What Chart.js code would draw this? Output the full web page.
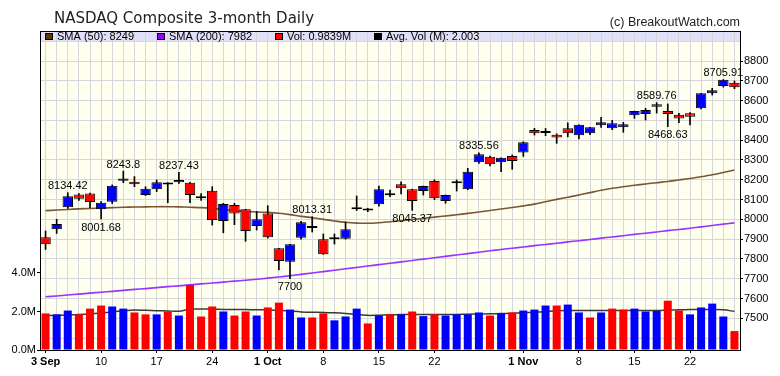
<!DOCTYPE html>
<html>
<head>
<meta charset="utf-8">
<script src="https://cdn.jsdelivr.net/npm/chart.js@4.4.1/dist/chart.umd.min.js"></script>
<style>
  html, body { margin: 0; padding: 0; background: #fff; }
  #wrap { width: 780px; height: 376px; }
</style>
</head>
<body>
<div id="wrap"><canvas id="chart" width="780" height="376"></canvas></div>
<script>
// trading days, 3 Sep - 29 Nov
const days = [
  "3 Sep", "4", "5", "6", "9", "10", "11", "12", "13", "16", "17", "18", "19", "20", "23", "24", "25", "26", "27", "30",
  "1 Oct", "2", "3", "4", "7", "8", "9", "10", "11", "14", "15", "16", "17", "18", "21", "22", "23", "24", "25", "28", "29", "30", "31",
  "1 Nov", "4", "5", "6", "7", "8", "11", "12", "13", "14", "15", "18", "19", "20", "21", "22", "25", "26", "27", "29",
];
const tickIdx = [0, 5, 10, 15, 20, 25, 30, 35, 43, 48, 53, 58];

const opens = [
  7909, 7950, 8061, 8126, 8131, 8051, 8089, 8207, 8190, 8123,
  8152, 8176, 8199, 8185, 8106, 8145, 7992, 8072, 8051, 7966,
  8030, 7854, 7786, 7907, 7956, 7899, 7900, 7902, 8051, 8045,
  8076, 8122, 8177, 8152, 8143, 8194, 8093, 8183, 8152, 8288,
  8316, 8288, 8320, 8338, 8451, 8446, 8428, 8460, 8425, 8435,
  8475, 8460, 8465, 8526, 8532, 8581, 8547, 8529, 8536, 8561,
  8637, 8674, 8690,
];
const highs = [
  7941, 8000, 8134.42, 8130, 8133, 8090, 8174, 8243.8, 8216, 8165,
  8199, 8185, 8237.43, 8187, 8130, 8165, 8081, 8081, 8051, 8040,
  8069, 7854, 7874, 7990, 8013.31, 7926, 7926, 7986, 8118, 8056,
  8168, 8148, 8190, 8152, 8168, 8200, 8123, 8199, 8258, 8335.56,
  8320, 8311, 8325, 8392, 8460, 8459, 8432, 8488, 8478, 8465,
  8516, 8500, 8490, 8547, 8561, 8589.76, 8583, 8536, 8540, 8637,
  8662, 8705.91, 8699,
];
const lows = [
  7848, 7929, 8055, 8096, 8059, 8001.68, 8080, 8185, 8165, 8120,
  8140, 8084, 8182, 8084, 8096, 7971, 7932, 7973, 7889, 7946,
  7905, 7744, 7700, 7900, 7936, 7823, 7875, 7900, 8045, 8039,
  8066, 8114, 8128, 8045.37, 8123, 8100, 8081, 8143, 8150, 8283,
  8270, 8241, 8253, 8318, 8426, 8423, 8384, 8417, 8407, 8428,
  8465, 8453, 8440, 8510, 8502, 8537, 8468.63, 8488, 8477, 8558,
  8628, 8668, 8660,
];
const closes = [
  7874, 7977, 8117, 8104, 8088, 8084, 8170, 8195, 8177, 8155,
  8187, 8178, 8187, 8123, 8114, 7997, 8077, 8030, 7941, 8000,
  7909, 7789, 7874, 7985, 7958, 7823, 7903, 7950, 8061, 8048,
  8152, 8124, 8157, 8093, 8168, 8106, 8123, 8185, 8241, 8329,
  8278, 8311, 8295, 8390, 8435, 8436, 8414, 8435, 8478, 8465,
  8490, 8485, 8480, 8547, 8552, 8569, 8532, 8510, 8519, 8637,
  8652, 8705, 8667,
];
const priorClose = 7963;

// volume, millions
const volumes = [
  1.90, 1.85, 2.05, 1.85, 2.15, 2.31, 2.26, 2.15, 1.95, 1.85,
  1.85, 2.00, 1.79, 3.38, 1.74, 2.26, 2.00, 1.79, 2.00, 1.79,
  2.21, 2.46, 2.10, 1.69, 1.69, 1.90, 1.54, 1.74, 2.15, 1.38,
  1.79, 1.85, 1.85, 2.00, 1.76, 1.85, 1.79, 1.85, 1.85, 1.95,
  1.79, 1.90, 1.95, 2.05, 2.10, 2.31, 2.31, 2.36, 1.95, 1.69,
  1.95, 2.15, 2.10, 2.15, 2.00, 2.03, 2.56, 2.05, 1.85, 2.21,
  2.41, 1.74, 0.9839,
];
const avgVol = [
  1.79, 1.80, 1.82, 1.84, 1.87, 1.92, 1.98, 2.04, 2.08, 2.06,
  2.04, 2.03, 2.01, 2.12, 2.13, 2.12, 2.11, 2.10, 2.10, 2.09,
  2.08, 2.06, 2.02, 1.98, 1.96, 1.95, 1.93, 1.90, 1.86, 1.80,
  1.81, 1.83, 1.84, 1.84, 1.84, 1.84, 1.85, 1.85, 1.86, 1.87,
  1.88, 1.89, 1.91, 1.93, 1.96, 2.00, 2.04, 2.05, 2.05, 2.05,
  2.05, 2.05, 2.05, 2.05, 2.05, 2.05, 2.07, 2.09, 2.10, 2.10,
  2.10, 2.09, 2.003,
];
const sma50 = [
  8044, 8047, 8050, 8053, 8055, 8057, 8059, 8061, 8062, 8063,
  8064, 8064, 8063, 8061, 8059, 8055, 8050, 8044, 8040, 8037,
  8035, 8031, 8024, 8015, 8008, 8000, 7992, 7985, 7981, 7980,
  7983, 7988, 7993, 7999, 8005, 8011, 8017, 8023, 8030, 8037,
  8045, 8052, 8060, 8068, 8077, 8089, 8101, 8112, 8123, 8135,
  8147, 8157, 8165, 8172, 8179, 8185, 8191, 8199, 8206, 8215,
  8225, 8237, 8249,
];
const sma200 = [
  7609, 7613, 7618, 7622, 7627, 7632, 7636, 7641, 7646, 7650,
  7655, 7660, 7664, 7669, 7674, 7678, 7683, 7688, 7692, 7697,
  7703, 7709, 7715, 7722, 7729, 7736, 7743, 7750, 7757, 7764,
  7771, 7778, 7785, 7792, 7799, 7806, 7813, 7820, 7827, 7834,
  7841, 7848, 7854, 7860, 7867, 7873, 7879, 7886, 7892, 7898,
  7905, 7911, 7917, 7924, 7930, 7936, 7943, 7949, 7955, 7962,
  7969, 7976, 7982,
];

// which candles get their high / low printed
const highMarks = [2, 7, 12, 24, 39, 55, 61];
const lowMarks = [5, 22, 33, 56];

const priceTicks = [7400, 7500, 7600, 7700, 7800, 7900, 8000, 8100, 8200, 8300, 8400, 8500, 8600, 8700, 8800, 8900];
const volTicks = [0, 2, 4];

const BLUE = "#0000ff";
const RED = "#ff0000";
const SMALL = "'Liberation Sans', Arial, sans-serif";

const candleColors = closes.map((c, i) => (c > opens[i] ? BLUE : RED));
const volColors = closes.map((c, i) => (c < (i ? closes[i - 1] : priorClose) ? RED : BLUE));

const last = closes.length - 1;
const legendItems = [
  { x: 45, color: "#663300", text: `SMA (50): ${sma50[last]}` },
  { x: 157, color: "#9900ff", text: `SMA (200): ${sma200[last]}` },
  { x: 275, color: RED, text: `Vol: ${volumes[last]}M` },
  { x: 374, color: "#000000", text: `Avg. Vol (M): ${avgVol[last]}` },
];

const decor = {
  id: "decor",
  beforeDraw(chart) {
    const { ctx, chartArea: a } = chart;
    ctx.save();
    ctx.fillStyle = "#ffffff";
    ctx.fillRect(0, 0, chart.width, chart.height);
    ctx.fillStyle = "#fffff0";
    ctx.fillRect(a.left, a.top, a.right - a.left, a.bottom - a.top);
    ctx.fillStyle = "#e0e0f8";
    ctx.fillRect(a.left, a.top, a.right - a.left, 10);
    ctx.restore();
  },
  afterDatasetsDraw(chart) {
    const { ctx } = chart;
    const xs = chart.scales.x;
    const ys = chart.scales.price;
    ctx.save();
    ctx.font = `11px ${SMALL}`;
    ctx.fillStyle = "#000";
    ctx.textAlign = "center";
    ctx.textBaseline = "bottom";
    highMarks.forEach((i) => {
      ctx.fillText(String(highs[i]), xs.getPixelForValue(i), ys.getPixelForValue(highs[i]) - 1);
    });
    ctx.textBaseline = "top";
    lowMarks.forEach((i) => {
      ctx.fillText(String(lows[i]), xs.getPixelForValue(i), ys.getPixelForValue(lows[i]) + 3);
    });
    ctx.restore();
  },
  afterDraw(chart) {
    const { ctx, chartArea: a } = chart;
    ctx.save();
    ctx.strokeStyle = "#000";
    ctx.lineWidth = 1;
    ctx.beginPath();
    ctx.moveTo(a.left, a.top + 0.5);
    ctx.lineTo(a.right, a.top + 0.5);
    ctx.stroke();

    ctx.fillStyle = "#222";
    ctx.font = "15px 'DejaVu Sans', sans-serif";
    ctx.textBaseline = "alphabetic";
    ctx.fillText("NASDAQ Composite 3-month Daily", 54, 23);
    ctx.font = `12.5px ${SMALL}`;
    ctx.textAlign = "right";
    ctx.fillText("(c) BreakoutWatch.com", a.right, 26);

    ctx.textAlign = "left";
    ctx.font = `11px ${SMALL}`;
    legendItems.forEach((item) => {
      ctx.fillStyle = item.color;
      ctx.fillRect(item.x, a.top + 2, 8, 7);
      ctx.strokeStyle = "#000";
      ctx.strokeRect(item.x + 0.5, a.top + 2.5, 7, 6);
      ctx.fillStyle = "#000";
      ctx.fillText(item.text, item.x + 12, a.top + 9);
    });
    ctx.restore();
  },
};

const tickMarkColor = (labelled) => (labelled ? "#000" : "rgba(0,0,0,0)");

new Chart(document.getElementById("chart"), {
  type: "bar",
  data: {
    labels: days,
    datasets: [
      {
        label: "body",
        data: opens.map((o, i) => [o, closes[i]]),
        yAxisID: "price",
        backgroundColor: candleColors,
        borderColor: "#000",
        borderWidth: 1,
        borderSkipped: false,
        barPercentage: 0.94,
        categoryPercentage: 1,
        minBarLength: 2,
        grouped: false,
        order: 0,
      },
      {
        label: "wick",
        data: lows.map((l, i) => [l, highs[i]]),
        yAxisID: "price",
        backgroundColor: "#000",
        barThickness: 1,
        grouped: false,
        order: 1,
      },
      {
        label: "volume",
        data: volumes,
        yAxisID: "vol",
        backgroundColor: volColors,
        barPercentage: 0.72,
        categoryPercentage: 1,
        grouped: false,
        order: 2,
      },
      {
        type: "line",
        label: "SMA 50",
        data: sma50,
        yAxisID: "price",
        borderColor: "#7a5634",
        borderWidth: 1.6,
        pointRadius: 0,
        tension: 0.3,
        order: 3,
      },
      {
        type: "line",
        label: "SMA 200",
        data: sma200,
        yAxisID: "price",
        borderColor: "#9933ff",
        borderWidth: 1.6,
        pointRadius: 0,
        tension: 0.3,
        order: 3,
      },
      {
        type: "line",
        label: "Avg vol",
        data: avgVol,
        yAxisID: "vol",
        borderColor: "#3a3a3a",
        borderWidth: 1.5,
        pointRadius: 0,
        tension: 0.3,
        order: 4,
      },
    ],
  },
  options: {
    responsive: false,
    animation: false,
    devicePixelRatio: 1,
    layout: { padding: { top: 31, left: 0, right: 0, bottom: 0 } },
    plugins: { legend: { display: false }, tooltip: { enabled: false } },
    scales: {
      x: {
        offset: true,
        grid: {
          offset: false,
          color: "#d6d6dc",
          tickLength: 3,
          tickColor: (ctx) => tickMarkColor(tickIdx.includes(ctx.index)),
        },
        border: { color: "#000", width: 1 },
        ticks: {
          autoSkip: false,
          maxRotation: 0,
          padding: 2,
          color: "#000",
          font: (ctx) => ({
            family: SMALL,
            size: 11,
            weight: days[ctx.index] && days[ctx.index].includes(" ") ? "bold" : "normal",
          }),
          callback: (value, index) => (tickIdx.includes(index) ? days[index] : ""),
        },
        afterFit: (scale) => { scale.height = 26; },
      },
      vol: {
        position: "left",
        min: 0,
        max: 16.57,
        grid: { drawOnChartArea: false, tickLength: 3, tickColor: "#000" },
        border: { color: "#000", width: 1 },
        ticks: {
          padding: 1,
          color: "#000",
          font: { family: SMALL, size: 11 },
          callback: (v) => `${v.toFixed(1)}M`,
        },
        afterBuildTicks: (scale) => { scale.ticks = volTicks.map((v) => ({ value: v })); },
        afterFit: (scale) => { scale.width = 40; },
      },
      price: {
        position: "right",
        min: 7339.8,
        max: 8951.7,
        grid: {
          color: "#d6d6dc",
          tickLength: 3,
          tickColor: (ctx) => tickMarkColor(ctx.tick && ctx.tick.value >= 7500 && ctx.tick.value <= 8800),
        },
        border: { color: "#000", width: 1 },
        ticks: {
          padding: 1,
          color: "#000",
          font: { family: SMALL, size: 11 },
          callback: (v) => (v >= 7500 && v <= 8800 ? String(v) : ""),
        },
        afterBuildTicks: (scale) => { scale.ticks = priceTicks.map((v) => ({ value: v })); },
        afterFit: (scale) => { scale.width = 40; },
      },
    },
  },
  plugins: [decor],
});
</script>
</body>
</html>
